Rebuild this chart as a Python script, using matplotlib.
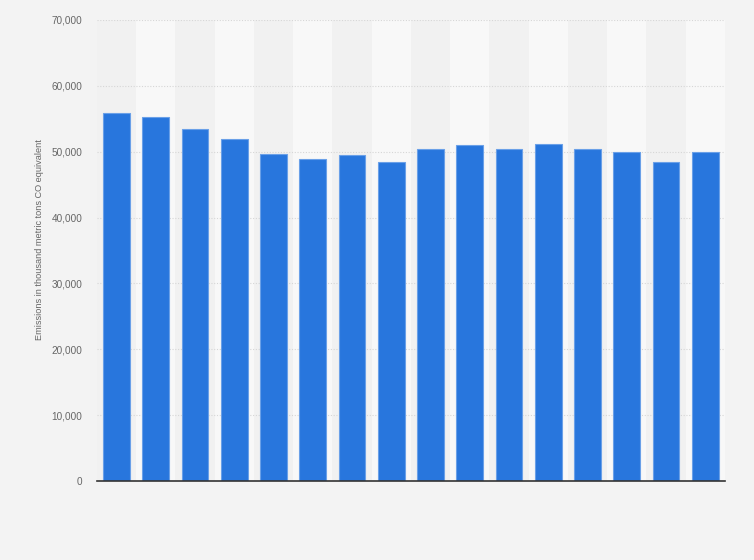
import matplotlib
matplotlib.use("Agg")
import matplotlib.pyplot as plt
from matplotlib.ticker import FuncFormatter

plt.rcParams['font.family'] = ['Liberation Sans', 'DejaVu Sans']

# emissions per year, thousand metric tons CO2 equivalent (years not labelled in the source)
positions = list(range(16))
emissions = [55840, 55200, 53400, 52000, 49600, 48900, 49450, 48400,
             50400, 51000, 50400, 51200, 50400, 49900, 48400, 49900]
y_ticks = [0, 10000, 20000, 30000, 40000, 50000, 60000, 70000]

fig = plt.figure(figsize=(7.54, 5.6), dpi=100, facecolor='#f3f3f3')
ax = fig.add_axes([0.1286, 0.1411, 0.8329, 0.8232])
ax.set_facecolor('#f3f3f3')

# alternating column bands behind the bars
for i in positions:
    ax.axvspan(i - 0.5, i + 0.5, color='#f1f1f1' if i % 2 == 0 else '#f8f8f8',
               lw=0, zorder=0)

ax.bar(positions, emissions, width=0.68, color='#2876dd',
       edgecolor='#6aa0e8', linewidth=0.8, zorder=3)

ax.set_xlim(-0.5, len(positions) - 0.5)
ax.set_ylim(0, 70000)
ax.set_yticks(y_ticks)
ax.yaxis.set_major_formatter(FuncFormatter(lambda v, p: f'{int(v):,}'))
ax.set_xticks([])

ax.grid(axis='y', color='#d6d6d6', linestyle=(0, (1, 1.5)), linewidth=0.8, zorder=1)
for side in ['top', 'right', 'left']:
    ax.spines[side].set_visible(False)
ax.spines['bottom'].set_color('#333333')
ax.spines['bottom'].set_linewidth(1.2)
ax.spines['bottom'].set_zorder(4)

ax.tick_params(axis='y', length=0, pad=10.5, labelsize=7.2, labelcolor='#666666')
fig.text(40 / 754, 1 - 240 / 560, 'Emissions in thousand metric tons CO equivalent',
         rotation=90, ha='center', va='center', fontsize=6.6, color='#666666')

fig.savefig('out.png', dpi=100, facecolor=fig.get_facecolor())
